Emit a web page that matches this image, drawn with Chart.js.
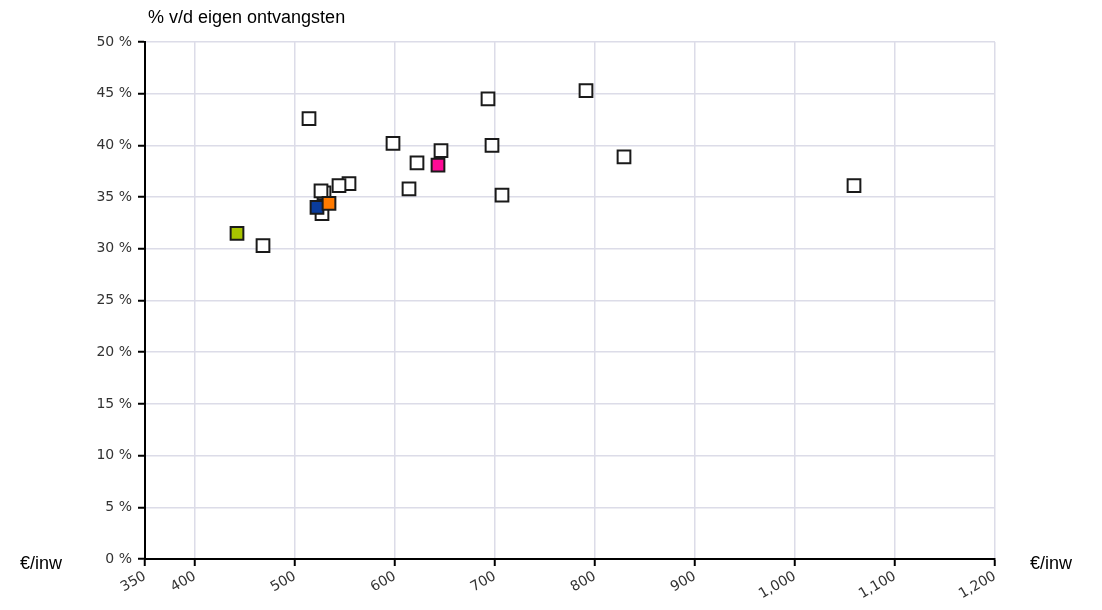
<!DOCTYPE html>
<html>
<head>
<meta charset="utf-8">
<script src="https://cdn.jsdelivr.net/npm/chart.js@4/dist/chart.umd.min.js"></script>
<style>
  html, body { margin: 0; padding: 0; background: #fff; }
  #wrap { position: relative; width: 1102px; height: 610px; }
</style>
</head>
<body>
<div id="wrap"><canvas id="scatter"></canvas></div>
<script>
// --- data ---
const otherX = [514, 598, 693, 791, 697, 646, 622, 829, 614, 707, 1059, 554, 544, 529, 526, 527, 468];
const otherY = [42.6, 40.2, 44.5, 45.3, 40.0, 39.5, 38.3, 38.9, 35.8, 35.2, 36.1, 36.3, 36.1, 35.4, 35.6, 33.4, 30.3];
const highlightX = [442, 522, 534, 643];
const highlightY = [31.5, 34.0, 34.4, 38.1];
const xTicks = [350, 400, 500, 600, 700, 800, 900, 1000, 1100, 1200];
const yTitle = '% v/d eigen ontvangsten';
const xUnit = '€/inw';

const highlightColors = ['#a8c400', '#0a3c9c', '#ff7a00', '#ff0a96'];
const FONT = "'Liberation Sans', Arial, sans-serif";
const TICK_FONT = "'DejaVu Sans', sans-serif";

// extra labels: axis title on top, unit on both ends of the x axis
const extraLabels = {
  id: 'extraLabels',
  afterDraw(chart) {
    const { ctx, chartArea } = chart;
    const xAxis = chart.scales.x;
    ctx.save();
    ctx.fillStyle = '#000';
    ctx.font = '18px ' + FONT;
    ctx.textBaseline = 'middle';
    ctx.textAlign = 'left';
    ctx.fillText(yTitle, chartArea.left + 3, 18);
    ctx.fillText(xUnit, 20, xAxis.top + 5);
    ctx.fillText(xUnit, chartArea.right + 35, xAxis.top + 5);
    ctx.restore();
  }
};

const gridStyle = { color: '#dcdce8', lineWidth: 1.5, tickColor: '#000', tickWidth: 2, tickLength: 7 };

new Chart(document.getElementById('scatter'), {
  type: 'scatter',
  data: {
    datasets: [
      {
        data: highlightX.map((x, i) => ({ x, y: highlightY[i] })),
        pointStyle: 'rect',
        pointRadius: 9,
        pointBorderWidth: 2,
        pointBorderColor: '#1a1a1a',
        pointBackgroundColor: highlightColors
      },
      {
        data: otherX.map((x, i) => ({ x, y: otherY[i] })),
        pointStyle: 'rect',
        pointRadius: 9,
        pointBorderWidth: 2,
        pointBorderColor: '#1a1a1a',
        pointBackgroundColor: '#ffffff'
      }
    ]
  },
  options: {
    responsive: true,
    maintainAspectRatio: false,
    animation: false,
    layout: { padding: { top: 42, right: 107, left: 0, bottom: 0 } },
    plugins: { legend: { display: false }, tooltip: { enabled: false } },
    scales: {
      x: {
        type: 'linear',
        min: 350,
        max: 1200,
        afterFit: s => { s.height = 51; },
        afterBuildTicks: s => { s.ticks = xTicks.map(v => ({ value: v })); },
        ticks: {
          autoSkip: false,
          minRotation: 30,
          maxRotation: 30,
          padding: 2,
          color: '#333',
          font: { family: TICK_FONT, size: 14 },
          callback: v => v.toLocaleString('en-US')
        },
        grid: gridStyle,
        border: { color: '#000', width: 2 }
      },
      y: {
        min: 0,
        max: 50,
        afterFit: s => { s.width = 145; },
        ticks: {
          stepSize: 5,
          padding: 6,
          color: '#333',
          font: { family: TICK_FONT, size: 14 },
          callback: v => v + ' %'
        },
        grid: gridStyle,
        border: { color: '#000', width: 2 }
      }
    }
  },
  plugins: [extraLabels]
});
</script>
</body>
</html>
